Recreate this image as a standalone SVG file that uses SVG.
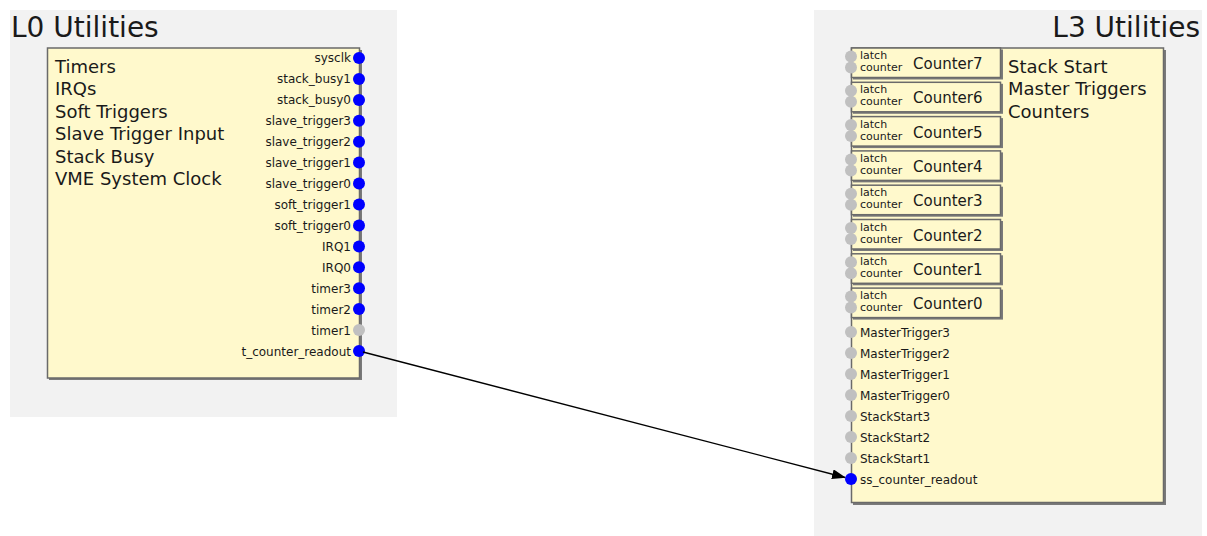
<svg xmlns="http://www.w3.org/2000/svg" width="1207" height="536" viewBox="0 0 1207 536">
<style>
text{font-family:"DejaVu Sans","Liberation Sans",sans-serif;fill:#1a1a1a}
.bg{fill:#f2f2f2}
.title{font-size:28px}
.node{fill:#fff9cc;stroke:#6a6a6a;stroke-width:1.5}
.shadow{fill:#7a7a7a}
.desc{font-size:18px}
.pl{font-size:12px}
.pr{font-size:12px;text-anchor:end}
.small{font-size:11px}
.cname{font-size:15px}
.on{fill:#0000ff}
.off{fill:#c0c0c0}
.edge{stroke:#000;stroke-width:1.3;fill:none}
</style>
<defs>
<marker id="arr" markerWidth="14" markerHeight="10" refX="13" refY="5" orient="auto" markerUnits="userSpaceOnUse">
<path d="M0,0 L14,5 L0,10 z" fill="#000"/>
</marker>
</defs>
<rect width="1207" height="536" fill="#fff"/>

<g id="L0-group">
<rect class="bg" x="10" y="10" width="387" height="407"/>
<text class="title" x="11" y="37">L0 Utilities</text>
</g>
<g id="L3-group">
<rect class="bg" x="814" y="10" width="388" height="526"/>
<text class="title" x="1200" y="37" text-anchor="end">L3 Utilities</text>
</g>

<g id="L0-node">
<rect class="shadow" x="49" y="50" width="313" height="330"/>
<rect class="node" x="47.5" y="48" width="312" height="330"/>
<text class="desc" x="55" y="73">Timers</text>
<text class="desc" x="55" y="95.4">IRQs</text>
<text class="desc" x="55" y="117.8">Soft Triggers</text>
<text class="desc" x="55" y="140.2">Slave Trigger Input</text>
<text class="desc" x="55" y="162.6">Stack Busy</text>
<text class="desc" x="55" y="185">VME System Clock</text>
<g>
<circle class="on" cx="359" cy="58" r="6"/><text class="pr" x="351" y="62">sysclk</text>
<circle class="on" cx="359" cy="78.9" r="6"/><text class="pr" x="351" y="83">stack_busy1</text>
<circle class="on" cx="359" cy="99.9" r="6"/><text class="pr" x="351" y="104">stack_busy0</text>
<circle class="on" cx="359" cy="120.8" r="6"/><text class="pr" x="351" y="125">slave_trigger3</text>
<circle class="on" cx="359" cy="141.7" r="6"/><text class="pr" x="351" y="146">slave_trigger2</text>
<circle class="on" cx="359" cy="162.6" r="6"/><text class="pr" x="351" y="167">slave_trigger1</text>
<circle class="on" cx="359" cy="183.6" r="6"/><text class="pr" x="351" y="188">slave_trigger0</text>
<circle class="on" cx="359" cy="204.5" r="6"/><text class="pr" x="351" y="208.5">soft_trigger1</text>
<circle class="on" cx="359" cy="225.4" r="6"/><text class="pr" x="351" y="229.5">soft_trigger0</text>
<circle class="on" cx="359" cy="246.4" r="6"/><text class="pr" x="351" y="250.5">IRQ1</text>
<circle class="on" cx="359" cy="267.3" r="6"/><text class="pr" x="351" y="271.5">IRQ0</text>
<circle class="on" cx="359" cy="288.2" r="6"/><text class="pr" x="351" y="292.5">timer3</text>
<circle class="on" cx="359" cy="309.1" r="6"/><text class="pr" x="351" y="313.5">timer2</text>
<circle class="off" cx="359" cy="330.1" r="6"/><text class="pr" x="351" y="334.5">timer1</text>
<circle class="on" cx="359" cy="351" r="6"/><text class="pr" x="351" y="355.5">t_counter_readout</text>
</g>
</g>

<g id="L3-node">
<rect class="shadow" x="853" y="50" width="313" height="455"/>
<rect class="node" x="851.5" y="48" width="312" height="454.5"/>
<text class="desc" x="1008" y="73">Stack Start</text>
<text class="desc" x="1008" y="95.4">Master Triggers</text>
<text class="desc" x="1008" y="117.8">Counters</text>
<g>
<circle class="off" cx="851" cy="332" r="6"/><text class="pl" x="860" y="336.5">MasterTrigger3</text>
<circle class="off" cx="851" cy="353" r="6"/><text class="pl" x="860" y="357.5">MasterTrigger2</text>
<circle class="off" cx="851" cy="374" r="6"/><text class="pl" x="860" y="378.5">MasterTrigger1</text>
<circle class="off" cx="851" cy="395" r="6"/><text class="pl" x="860" y="399.5">MasterTrigger0</text>
<circle class="off" cx="851" cy="416" r="6"/><text class="pl" x="860" y="420.5">StackStart3</text>
<circle class="off" cx="851" cy="437" r="6"/><text class="pl" x="860" y="441.5">StackStart2</text>
<circle class="off" cx="851" cy="458" r="6"/><text class="pl" x="860" y="462.5">StackStart1</text>
<circle class="on" cx="851" cy="479" r="6"/><text class="pl" x="860" y="483.5">ss_counter_readout</text>
</g>
</g>

<g id="Counter7" transform="translate(0,48)">
<rect class="shadow" x="853" y="1.5" width="150" height="30"/>
<rect class="node" x="851.5" y="0" width="149" height="29.5"/>
<circle class="off" cx="851" cy="8.5" r="6"/><circle class="off" cx="851" cy="19.5" r="6"/>
<text class="small" x="860" y="11">latch</text><text class="small" x="860" y="23">counter</text>
<text class="cname" x="913" y="21">Counter7</text>
</g>
<g id="Counter6" transform="translate(0,82.3)">
<rect class="shadow" x="853" y="1.5" width="150" height="30"/>
<rect class="node" x="851.5" y="0" width="149" height="29.5"/>
<circle class="off" cx="851" cy="8.5" r="6"/><circle class="off" cx="851" cy="19.5" r="6"/>
<text class="small" x="860" y="11">latch</text><text class="small" x="860" y="23">counter</text>
<text class="cname" x="913" y="21">Counter6</text>
</g>
<g id="Counter5" transform="translate(0,116.6)">
<rect class="shadow" x="853" y="1.5" width="150" height="30"/>
<rect class="node" x="851.5" y="0" width="149" height="29.5"/>
<circle class="off" cx="851" cy="8.5" r="6"/><circle class="off" cx="851" cy="19.5" r="6"/>
<text class="small" x="860" y="11">latch</text><text class="small" x="860" y="23">counter</text>
<text class="cname" x="913" y="21">Counter5</text>
</g>
<g id="Counter4" transform="translate(0,150.9)">
<rect class="shadow" x="853" y="1.5" width="150" height="30"/>
<rect class="node" x="851.5" y="0" width="149" height="29.5"/>
<circle class="off" cx="851" cy="8.5" r="6"/><circle class="off" cx="851" cy="19.5" r="6"/>
<text class="small" x="860" y="11">latch</text><text class="small" x="860" y="23">counter</text>
<text class="cname" x="913" y="21">Counter4</text>
</g>
<g id="Counter3" transform="translate(0,185.2)">
<rect class="shadow" x="853" y="1.5" width="150" height="30"/>
<rect class="node" x="851.5" y="0" width="149" height="29.5"/>
<circle class="off" cx="851" cy="8.5" r="6"/><circle class="off" cx="851" cy="19.5" r="6"/>
<text class="small" x="860" y="11">latch</text><text class="small" x="860" y="23">counter</text>
<text class="cname" x="913" y="21">Counter3</text>
</g>
<g id="Counter2" transform="translate(0,219.5)">
<rect class="shadow" x="853" y="1.5" width="150" height="30"/>
<rect class="node" x="851.5" y="0" width="149" height="29.5"/>
<circle class="off" cx="851" cy="8.5" r="6"/><circle class="off" cx="851" cy="19.5" r="6"/>
<text class="small" x="860" y="11">latch</text><text class="small" x="860" y="23">counter</text>
<text class="cname" x="913" y="21">Counter2</text>
</g>
<g id="Counter1" transform="translate(0,253.8)">
<rect class="shadow" x="853" y="1.5" width="150" height="30"/>
<rect class="node" x="851.5" y="0" width="149" height="29.5"/>
<circle class="off" cx="851" cy="8.5" r="6"/><circle class="off" cx="851" cy="19.5" r="6"/>
<text class="small" x="860" y="11">latch</text><text class="small" x="860" y="23">counter</text>
<text class="cname" x="913" y="21">Counter1</text>
</g>
<g id="Counter0" transform="translate(0,288.1)">
<rect class="shadow" x="853" y="1.5" width="150" height="30"/>
<rect class="node" x="851.5" y="0" width="149" height="29.5"/>
<circle class="off" cx="851" cy="8.5" r="6"/><circle class="off" cx="851" cy="19.5" r="6"/>
<text class="small" x="860" y="11">latch</text><text class="small" x="860" y="23">counter</text>
<text class="cname" x="913" y="21">Counter0</text>
</g>

<g id="connectors">
<line class="edge" x1="363" y1="352" x2="845" y2="477.5" marker-end="url(#arr)"/>
</g>
</svg>
